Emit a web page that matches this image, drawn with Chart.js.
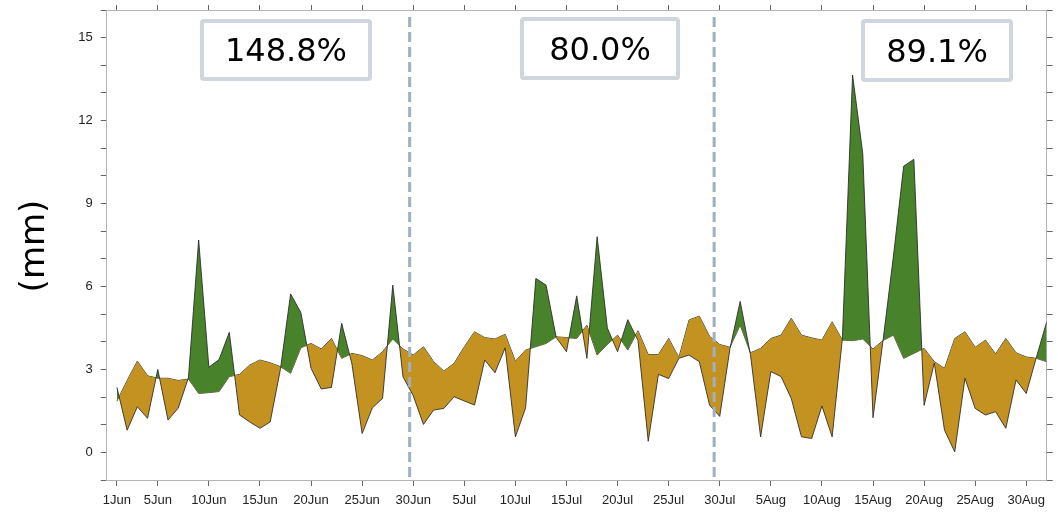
<!DOCTYPE html>
<html>
<head>
<meta charset="utf-8">
<script src="https://cdn.jsdelivr.net/npm/chart.js@4/dist/chart.umd.min.js"></script>
<style>
  html, body { margin: 0; padding: 0; background: #fff; }
  #wrap { width: 1058px; height: 512px; position: relative; }
</style>
</head>
<body>
<div id="wrap"><canvas id="chart"></canvas></div>
<script>
// day index 0 = 1Jun ... 91 = 31Aug
const dayIndex = Array.from({ length: 92 }, (_, i) => i);

// observed daily rainfall (mm)
const observed = [
  2.35, 0.8, 1.65, 1.23, 3.0, 1.17, 1.6, 2.7, 7.68, 3.08,
  3.36, 4.34, 1.35, 1.1, 0.87, 1.1, 3.0, 5.73, 5.06, 3.04,
  2.29, 2.35, 4.67, 3.2, 0.68, 1.61, 1.95, 6.05, 2.73, 2.05,
  1.01, 1.53, 1.59, 2.01, 1.86, 1.71, 3.34, 2.88, 3.78, 0.56,
  1.61, 6.29, 6.05, 4.15, 3.64, 5.66, 3.4, 7.8, 4.5, 3.64,
  4.8, 4.05, 0.4, 2.82, 2.67, 3.4, 3.52, 3.28, 1.71, 1.3,
  3.75, 5.46, 3.55, 0.56, 2.92, 2.74, 1.95, 0.56, 0.5, 1.68,
  0.56, 4.1, 13.65, 10.8, 1.25, 4.1, 7.1, 10.35, 10.6, 1.7,
  3.23, 0.8, 0.02, 2.68, 1.59, 1.35, 1.47, 0.87, 2.62, 2.13,
  3.45, 4.72
];

// reference (climatology) daily rainfall (mm)
const climatology = [
  1.85, 2.6, 3.3, 2.77, 2.68, 2.68, 2.6, 2.65, 2.13, 2.16,
  2.2, 2.74, 2.82, 3.16, 3.34, 3.24, 3.1, 2.86, 3.78, 3.94,
  3.74, 4.12, 3.4, 3.58, 3.5, 3.34, 3.64, 4.1, 3.74, 3.52,
  3.82, 3.28, 2.94, 3.22, 3.82, 4.36, 4.15, 4.1, 4.27, 3.3,
  3.7, 3.82, 3.94, 4.18, 4.15, 4.12, 4.6, 3.52, 3.9, 4.24,
  3.7, 4.4, 3.54, 3.54, 4.12, 3.43, 4.79, 4.93, 4.2, 3.9,
  3.8, 4.6, 3.6, 3.76, 4.12, 4.24, 4.85, 4.24, 4.14, 4.06,
  4.72, 4.06, 4.04, 4.1, 3.74, 4.05, 4.24, 3.4, 3.58, 3.76,
  3.28, 3.04, 4.12, 4.36, 3.8, 4.06, 3.56, 4.12, 3.6, 3.45,
  3.4, 3.28
];

const tickIndex = [0, 4, 9, 14, 19, 24, 29, 34, 39, 44, 49, 54, 59, 64, 69, 74, 79, 84, 89];
const tickLabels = ['1Jun', '5Jun', '10Jun', '15Jun', '20Jun', '25Jun', '30Jun',
  '5Jul', '10Jul', '15Jul', '20Jul', '25Jul', '30Jul',
  '5Aug', '10Aug', '15Aug', '20Aug', '25Aug', '30Aug'];
const yLabelValues = [0, 3, 6, 9, 12, 15];

const dividers = [28.65, 58.45];
const percentTexts = ['148.8%', '80.0%', '89.1%'];

const GREEN = '#48822a';
const ORANGE = '#c49221';

// percent boxes and month dividers
const overlay = {
  id: 'overlay',
  afterDatasetsDraw(chart) {
    const { ctx, chartArea, scales } = chart;
    ctx.save();
    ctx.strokeStyle = '#9fb0c3';
    ctx.lineWidth = 3;
    ctx.setLineDash([10, 5]);
    dividers.forEach(d => {
      const x = scales.x.getPixelForValue(d);
      ctx.beginPath();
      ctx.moveTo(x, chartArea.top + 7);
      ctx.lineTo(x, chartArea.bottom);
      ctx.stroke();
    });
    ctx.setLineDash([]);

    const boxes = [
      { x: 200, y: 19, w: 172, h: 62 },
      { x: 520, y: 17, w: 160, h: 63 },
      { x: 861, y: 19, w: 152, h: 63 }
    ];
    boxes.forEach((b, i) => {
      ctx.fillStyle = '#fff';
      ctx.strokeStyle = '#cfd6de';
      ctx.lineWidth = 4;
      ctx.beginPath();
      ctx.roundRect(b.x + 2, b.y + 2, b.w - 4, b.h - 4, 2);
      ctx.fill();
      ctx.stroke();
      ctx.fillStyle = '#000';
      ctx.font = '32px "DejaVu Sans"';
      ctx.textAlign = 'center';
      ctx.textBaseline = 'middle';
      ctx.fillText(percentTexts[i], b.x + b.w / 2, b.y + b.h / 2 + 3);
    });

    ctx.translate(35, 246);
    ctx.rotate(-Math.PI / 2);
    ctx.fillStyle = '#000';
    ctx.font = '34px "DejaVu Sans"';
    ctx.textAlign = 'center';
    ctx.textBaseline = 'middle';
    ctx.fillText('(mm)', 0, 0);
    ctx.restore();
  }
};

const tickFont = { family: '"Liberation Sans", Arial, sans-serif', size: 13 };

function noPadX(s, h) {
  s.height = h;
  s.paddingLeft = 0;
  s.paddingRight = 0;
}
function noPadY(s, w) {
  s.width = w;
  s.paddingTop = 0;
  s.paddingBottom = 0;
}

new Chart(document.getElementById('chart'), {
  type: 'line',
  data: {
    labels: dayIndex,
    datasets: [
      {
        label: 'observed',
        data: dayIndex.map((d, i) => ({ x: d, y: observed[i] })),
        borderColor: 'rgba(40,40,40,0.85)',
        borderWidth: 1,
        pointRadius: 0,
        tension: 0,
        fill: { target: 1, above: GREEN, below: ORANGE }
      },
      {
        label: 'climatology',
        data: dayIndex.map((d, i) => ({ x: d, y: climatology[i] })),
        borderColor: 'rgba(40,40,40,0.85)',
        borderWidth: 1,
        pointRadius: 0,
        tension: 0,
        fill: false
      }
    ]
  },
  options: {
    responsive: true,
    maintainAspectRatio: false,
    animation: false,
    layout: { padding: 0 },
    plugins: { legend: { display: false }, tooltip: { enabled: false } },
    scales: {
      x: {
        type: 'linear',
        position: 'bottom',
        min: -1,
        max: 91,
        afterBuildTicks: s => { s.ticks = tickIndex.map(v => ({ value: v })); },
        afterFit: s => noPadX(s, 32),
        ticks: {
          autoSkip: false,
          maxRotation: 0,
          padding: 7,
          color: '#222',
          font: tickFont,
          callback: v => tickLabels[tickIndex.indexOf(v)]
        },
        grid: { drawOnChartArea: false, tickLength: 6, color: '#666' },
        border: { color: '#b4b4b4' }
      },
      x2: {
        type: 'linear',
        position: 'top',
        min: -1,
        max: 91,
        afterBuildTicks: s => { s.ticks = tickIndex.map(v => ({ value: v })); },
        afterFit: s => noPadX(s, 10),
        ticks: { display: false },
        grid: { drawOnChartArea: false, tickLength: 5, color: '#666' },
        border: { color: '#b4b4b4' }
      },
      y: {
        position: 'left',
        min: -1,
        max: 16,
        afterFit: s => noPadY(s, 106.7),
        ticks: {
          stepSize: 1,
          autoSkip: false,
          padding: 8,
          color: '#222',
          font: tickFont,
          callback: v => (yLabelValues.includes(v) ? String(v) : '')
        },
        grid: { drawOnChartArea: false, tickLength: 6, color: '#666' },
        border: { color: '#b4b4b4' }
      },
      y2: {
        position: 'right',
        min: -1,
        max: 16,
        afterFit: s => noPadY(s, 11.3),
        ticks: { stepSize: 1, display: false },
        grid: { drawOnChartArea: false, tickLength: 6, color: '#666' },
        border: { color: '#b4b4b4' }
      }
    }
  },
  plugins: [overlay]
});
</script>
</body>
</html>
